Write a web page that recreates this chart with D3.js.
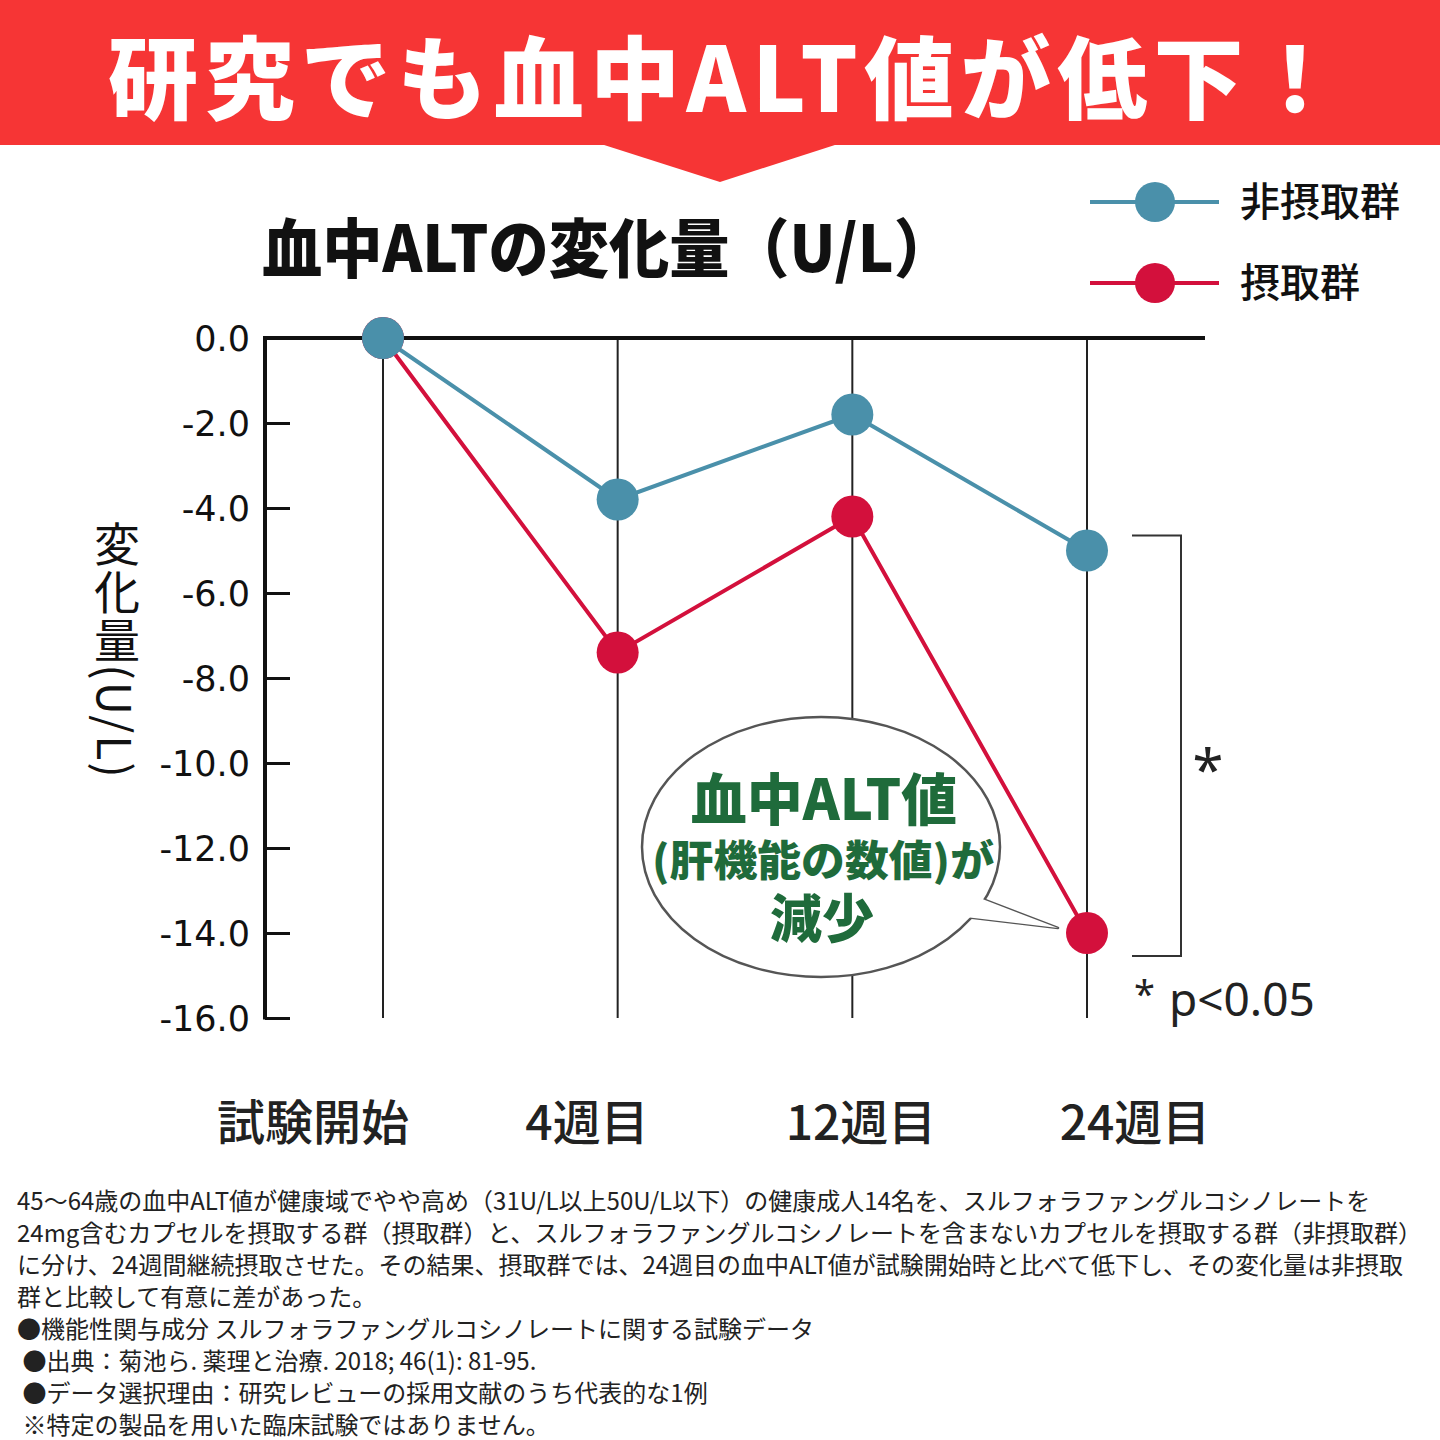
<!DOCTYPE html>
<html>
<head>
<meta charset="utf-8">
<script src="https://cdn.jsdelivr.net/npm/d3@7"></script>
<style>
  body { margin: 0; background: #fff; }
  svg { display: block; font-family: "Noto Sans CJK JP", "Noto Sans", sans-serif; }
</style>
</head>
<body>
<div class="chart-container"></div>
<script>
// datos
const categories = ["試験開始", "4週目", "12週目", "24週目"]
const nonIntake = [0.0, -3.8, -1.8, -5.0]   // 非摂取群
const intake = [0.0, -7.4, -4.2, -14.0]     // 摂取群
const yTicks = [0, -2, -4, -6, -8, -10, -12, -14, -16]
const seriesNames = ["非摂取群", "摂取群"]
const seriesColors = ["#4a90aa", "#d3103c"]

const notes = [
  "45～64歳の血中ALT値が健康域でやや高め（31U/L以上50U/L以下）の健康成人14名を、スルフォラファングルコシノレートを",
  "24mg含むカプセルを摂取する群（摂取群）と、スルフォラファングルコシノレートを含まないカプセルを摂取する群（非摂取群）",
  "に分け、24週間継続摂取させた。その結果、摂取群では、24週目の血中ALT値が試験開始時と比べて低下し、その変化量は非摂取",
  "群と比較して有意に差があった。",
  "●機能性関与成分 スルフォラファングルコシノレートに関する試験データ",
  " ●出典：菊池ら. 薬理と治療. 2018; 46(1): 81-95.",
  " ●データ選択理由：研究レビューの採用文献のうち代表的な1例",
  " ※特定の製品を用いた臨床試験ではありません。"
]

const WIDTH = 1440
const HEIGHT = 1440
const margin = { top: 338, bottom: 422, left: 265, right: 235 }

const svg = d3.select(".chart-container")
  .append("svg")
  .attr("width", WIDTH)
  .attr("height", HEIGHT)

// Banner
const red = "#f63535"
svg.append("rect").attr("x", 0).attr("y", 0).attr("width", WIDTH).attr("height", 145).attr("fill", red)
svg.append("path").attr("d", "M601,144 L838,144 L720,182 Z").attr("fill", red)
svg.append("text")
  .attr("x", 108).attr("y", 112)
  .attr("textLength", 1232).attr("lengthAdjust", "spacing")
  .attr("fill", "#fff")
  .style("font-size", "90px").style("font-weight", 900)
  .text("研究でも血中ALT値が低下！")

// Titulo
svg.append("text")
  .attr("x", 262).attr("y", 272)
  .attr("textLength", 692).attr("lengthAdjust", "spacingAndGlyphs")
  .style("font-size", "64px").style("font-weight", 900)
  .attr("fill", "#111")
  .text("血中ALTの変化量（U/L）")

// Escalas
const xScale = d3.scalePoint().domain(categories).range([383, 1087])
const xLabel = d3.scalePoint().domain(categories).range([313, 1135])
const yScale = d3.scaleLinear().domain([0, -16]).range([margin.top, HEIGHT - margin.bottom])

// Lineas verticales
svg.append("g").selectAll("line")
  .data(categories)
  .join("line")
  .attr("x1", d => xScale(d)).attr("x2", d => xScale(d))
  .attr("y1", yScale(0)).attr("y2", yScale(-16))
  .attr("stroke", "#222").attr("stroke-width", 2)

// Eje Y
const yAxis = d3.axisRight(yScale)
  .tickValues(yTicks)
  .tickSize(25)
  .tickFormat(d => "")
const yAxisContainer = svg.append("g").attr("transform", `translate(${margin.left},0)`).call(yAxis)
yAxisContainer.select(".domain").remove()
yAxisContainer.selectAll(".tick line").attr("stroke", "#111").attr("stroke-width", 3)
svg.append("line")
  .attr("x1", margin.left).attr("x2", margin.left)
  .attr("y1", yScale(0) - 2).attr("y2", yScale(-16) + 1.5)
  .attr("stroke", "#111").attr("stroke-width", 4)
svg.append("line")
  .attr("x1", margin.left - 2).attr("x2", 1205)
  .attr("y1", yScale(0)).attr("y2", yScale(0))
  .attr("stroke", "#111").attr("stroke-width", 4)

svg.append("g").selectAll("text")
  .data(yTicks)
  .join("text")
  .attr("x", 250).attr("y", d => yScale(d))
  .attr("dy", "0.36em")
  .attr("text-anchor", "end")
  .style("font-family", "'DejaVu Sans', sans-serif")
  .style("font-size", "35px")
  .attr("fill", "#111")
  .text(d => d3.format(".1f")(d).replace("−", "-"))

// Titulo eje Y
svg.append("text")
  .attr("x", 117).attr("y", 650)
  .attr("text-anchor", "middle")
  .style("writing-mode", "vertical-rl")
  .style("font-size", "46px").style("font-weight", 400)
  .style("letter-spacing", "2px")
  .attr("fill", "#111")
  .text("変化量(U/L)")

// Eje X etiquetas
svg.append("g").selectAll("text")
  .data(categories)
  .join("text")
  .attr("x", d => xLabel(d)).attr("y", 1140)
  .attr("text-anchor", "middle")
  .style("font-size", "48px").style("font-weight", 500)
  .attr("fill", "#222")
  .text(d => d)

// Globo
const bubble = svg.append("g")
const tail = "M972,895 L1058,928 L957,916 Z"
bubble.append("path")
  .attr("d", tail)
  .attr("fill", "#fff").attr("stroke", "#555").attr("stroke-width", 2.5).attr("stroke-linejoin", "round")
bubble.append("ellipse")
  .attr("cx", 821).attr("cy", 847).attr("rx", 179).attr("ry", 130)
  .attr("fill", "#fff").attr("stroke", "#555").attr("stroke-width", 2.5)
bubble.append("path")
  .attr("d", tail)
  .attr("fill", "#fff")
const green = "#1f6b3b"
bubble.append("text").attr("x", 824).attr("y", 820).attr("text-anchor", "middle")
  .style("font-size", "56px").style("font-weight", 900).attr("fill", green).text("血中ALT値")
bubble.append("text").attr("x", 652).attr("y", 876)
  .attr("textLength", 342).attr("lengthAdjust", "spacingAndGlyphs")
  .style("font-size", "42px").style("font-weight", 900).attr("fill", green).text("(肝機能の数値)が")
bubble.append("text").attr("x", 822).attr("y", 938).attr("text-anchor", "middle")
  .style("font-size", "52px").style("font-weight", 900).attr("fill", green).text("減少")

// Lineas de datos
const series = [nonIntake, intake]
const lineGenerator = d3.line()
  .x((d, i) => xScale(categories[i]))
  .y(d => yScale(d))

svg.append("g").selectAll("path")
  .data(series)
  .join("path")
  .attr("d", d => lineGenerator(d))
  .attr("fill", "none")
  .attr("stroke", (d, i) => seriesColors[i])
  .attr("stroke-width", 4)

// circulos: primero el rojo para que el azul quede encima en el inicio
;[1, 0].forEach(si => {
  svg.append("g").selectAll("circle")
    .data(series[si])
    .join("circle")
    .attr("cx", (d, i) => xScale(categories[i]))
    .attr("cy", d => yScale(d))
    .attr("r", 21)
    .attr("fill", seriesColors[si])
})

// Leyenda
seriesNames.forEach((name, i) => {
  const y = 202 + i * 81
  svg.append("line").attr("x1", 1090).attr("x2", 1219).attr("y1", y).attr("y2", y)
    .attr("stroke", seriesColors[i]).attr("stroke-width", 4)
  svg.append("circle").attr("cx", 1155).attr("cy", y).attr("r", 20).attr("fill", seriesColors[i])
  svg.append("text").attr("x", 1240).attr("y", y).attr("dy", "0.36em")
    .style("font-size", "40px").style("font-weight", 500).attr("fill", "#111").text(name)
})

// Significancia
const y24a = yScale(nonIntake[3]), y24b = yScale(intake[3])
svg.append("path")
  .attr("d", `M1132,${y24a - 15} H1181 V${y24b + 23} H1132`)
  .attr("fill", "none").attr("stroke", "#333").attr("stroke-width", 2)
svg.append("text").attr("x", 1208).attr("y", 790).attr("text-anchor", "middle")
  .style("font-family", "'Noto Sans', sans-serif").style("font-size", "56px").attr("fill", "#222").text("*")
svg.append("text").attr("x", 1134).attr("y", 1016)
  .style("font-family", "'Noto Sans', sans-serif").style("font-size", "46px").attr("fill", "#222")
  .call(t => {
    t.append("tspan").attr("dy", -8).style("font-size", "38px").text("*")
    t.append("tspan").attr("dx", 14).attr("dy", 8).text("p<0.05")
  })

// Notas
svg.append("g").selectAll("text")
  .data(notes)
  .join("text")
  .attr("x", 17).attr("y", (d, i) => 1210 + i * 32)
  .style("font-size", "24px")
  .style("white-space", "pre")
  .attr("fill", "#222")
  .text(d => d)
</script>
</body>
</html>
